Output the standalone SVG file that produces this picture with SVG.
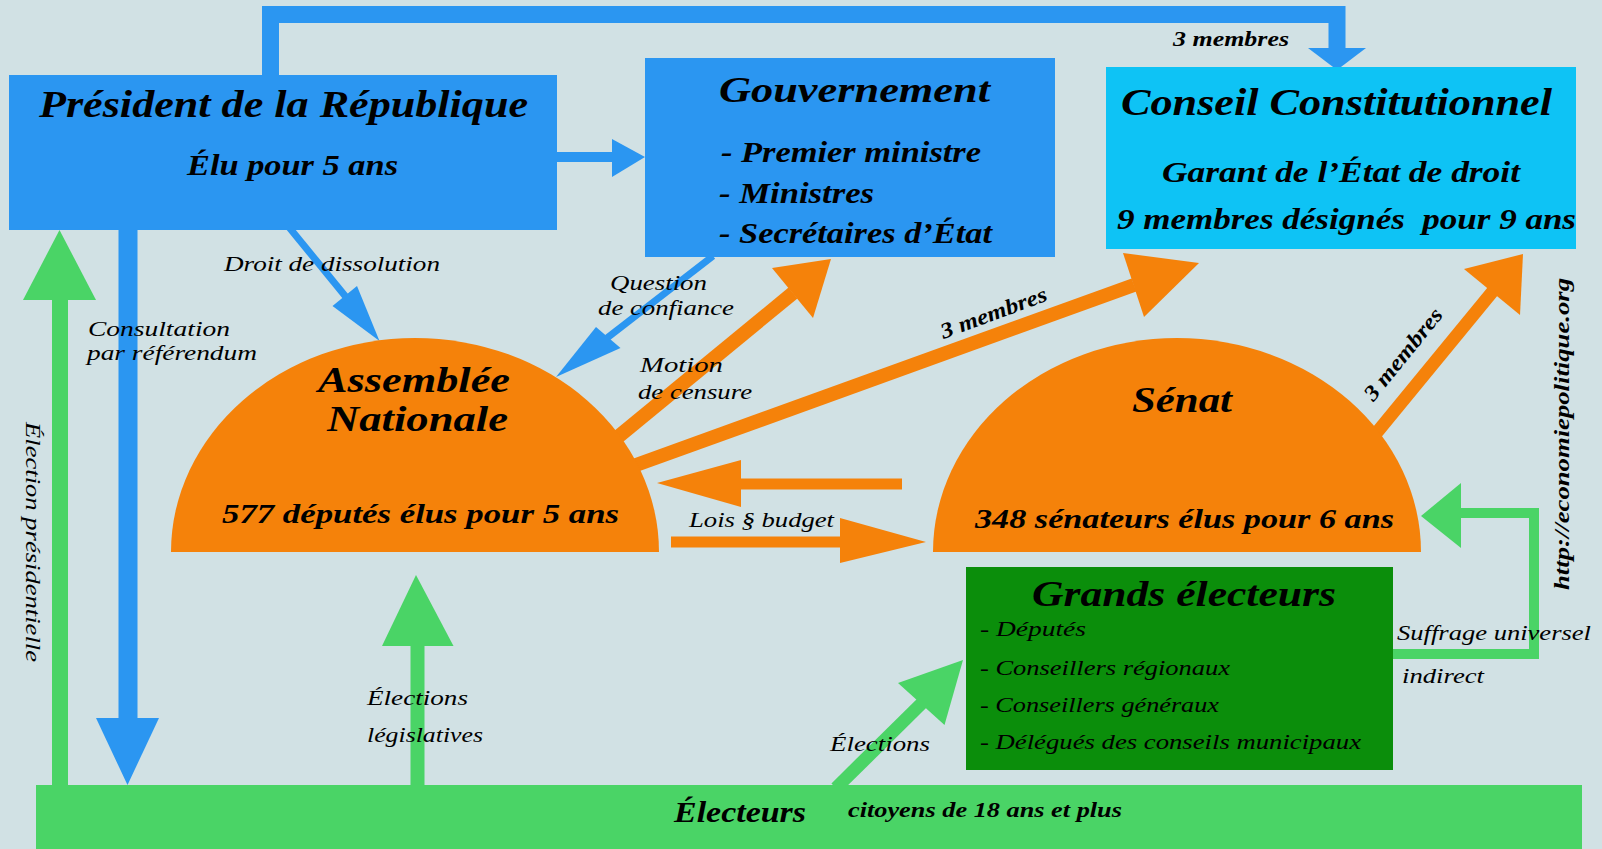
<svg xmlns="http://www.w3.org/2000/svg" width="1602" height="849" viewBox="0 0 1602 849">
<style>
.bg{fill:#D1E1E4}
.blue{fill:#2B96F1}
.cyan{fill:#0EC3F5}
.orange{fill:#F5820A}
.dgreen{fill:#0B8E0B}
.green{fill:#4AD466}
.lb{stroke:#2B96F1;fill:none}
.lo{stroke:#F5820A;fill:none}
.lg{stroke:#4AD466;fill:none}
text{font-family:"Liberation Serif","Times New Roman",serif;font-style:italic;fill:#000}
.b{font-weight:bold}
</style>
<rect class="bg" x="0" y="0" width="1602" height="849"/>

<g id="connectors">
  <!-- President -> Conseil constitutionnel (3 membres) -->
  <path class="lb" d="M270.5,75 V14.5 H1337 V48" stroke-width="17"/>
  <polygon class="blue" points="1308,48 1366,48 1337,70"/>
  <!-- President -> Gouvernement -->
  <line class="lb" x1="557" y1="157" x2="613" y2="157" stroke-width="10"/>
  <polygon class="blue" points="645,157 612,139 612,177"/>
  <!-- Droit de dissolution -->
  <line class="lb" x1="288" y1="226" x2="346" y2="297" stroke-width="7"/>
  <polygon class="blue" points="379.5,341 332.5,306 357,286"/>
  <!-- Question de confiance -->
  <line class="lb" x1="713" y1="256" x2="607" y2="338" stroke-width="7"/>
  <polygon class="blue" points="556,377 596,327 620.5,348"/>
  <!-- Consultation par referendum -->
  <line class="lb" x1="128" y1="222" x2="128" y2="720" stroke-width="19"/>
  <polygon class="blue" points="96,718 159,718 127.5,785"/>
  <!-- Motion de censure -->
  <line class="lo" x1="613" y1="441" x2="793" y2="293" stroke-width="14"/>
  <polygon class="orange" points="831,259 772,268 813,318"/>
  <!-- AN -> CC 3 membres -->
  <line class="lo" x1="636" y1="465" x2="1134" y2="285" stroke-width="14"/>
  <polygon class="orange" points="1199,263 1123,253 1144,317"/>
  <!-- Senat -> AN -->
  <line class="lo" x1="902" y1="484" x2="738" y2="484" stroke-width="11"/>
  <polygon class="orange" points="657,483 741,460 741,507"/>
  <!-- Lois budget AN -> Senat -->
  <line class="lo" x1="671" y1="542" x2="842" y2="542" stroke-width="11"/>
  <polygon class="orange" points="926,542 840,518 840,563"/>
  <!-- Senat -> CC 3 membres -->
  <line class="lo" x1="1360" y1="453" x2="1493" y2="291" stroke-width="13"/>
  <polygon class="orange" points="1523,254 1464,269 1520,315"/>
  <!-- Election presidentielle -->
  <line class="lg" x1="60" y1="786" x2="60" y2="298" stroke-width="16"/>
  <polygon class="green" points="59.5,230 23,300 96,300"/>
  <!-- Elections legislatives -->
  <line class="lg" x1="417.5" y1="786" x2="417.5" y2="644" stroke-width="14"/>
  <polygon class="green" points="416,575 382,646 453.5,646"/>
  <!-- Elections -> Grands electeurs -->
  <line class="lg" x1="836" y1="788" x2="922" y2="703" stroke-width="13"/>
  <polygon class="green" points="963,660 898,683 944.5,725"/>
  <!-- Suffrage universel indirect -->
  <path class="lg" d="M1393,654 H1534 V513 H1459" stroke-width="10"/>
  <polygon class="green" points="1421,516 1461,483 1461,548"/>

  <!-- labels -->
  <text class="b" x="1173" y="46" font-size="22" textLength="116" lengthAdjust="spacingAndGlyphs">3 membres</text>
  <text x="224" y="271" font-size="22" textLength="216" lengthAdjust="spacingAndGlyphs">Droit de dissolution</text>
  <text x="88" y="336" font-size="22" textLength="142" lengthAdjust="spacingAndGlyphs">Consultation</text>
  <text x="87" y="360" font-size="22" textLength="170" lengthAdjust="spacingAndGlyphs">par référendum</text>
  <text x="610" y="290" font-size="22" textLength="97" lengthAdjust="spacingAndGlyphs">Question</text>
  <text x="598" y="315" font-size="22" textLength="136" lengthAdjust="spacingAndGlyphs">de confiance</text>
  <text x="640" y="372" font-size="22" textLength="83" lengthAdjust="spacingAndGlyphs">Motion</text>
  <text x="638" y="399" font-size="22" textLength="114" lengthAdjust="spacingAndGlyphs">de censure</text>
  <text class="b" transform="translate(994,314) rotate(-20.3)" x="0" y="6" font-size="22" text-anchor="middle" textLength="112" lengthAdjust="spacingAndGlyphs">3 membres</text>
  <text class="b" transform="translate(1404,355) rotate(-51)" x="0" y="6" font-size="22" text-anchor="middle" textLength="112" lengthAdjust="spacingAndGlyphs">3 membres</text>
  <text x="689" y="527" font-size="21" textLength="145" lengthAdjust="spacingAndGlyphs">Lois § budget</text>
  <text x="367" y="705" font-size="21" textLength="101" lengthAdjust="spacingAndGlyphs">Élections</text>
  <text x="367" y="742" font-size="21" textLength="116" lengthAdjust="spacingAndGlyphs">législatives</text>
  <text x="830" y="751" font-size="21" textLength="100" lengthAdjust="spacingAndGlyphs">Élections</text>
  <text x="1397" y="640" font-size="21" textLength="194" lengthAdjust="spacingAndGlyphs">Suffrage universel</text>
  <text x="1402" y="683" font-size="21" textLength="82" lengthAdjust="spacingAndGlyphs">indirect</text>
  <text transform="translate(26,542) rotate(90)" x="0" y="0" font-size="20" text-anchor="middle" textLength="240" lengthAdjust="spacingAndGlyphs">Élection présidentielle</text>
</g>

<g id="president">
  <rect class="blue" x="9" y="75" width="548" height="155"/>
  <text class="b" x="39" y="117" font-size="38" textLength="489" lengthAdjust="spacingAndGlyphs">Président de la République</text>
  <text class="b" x="187" y="175" font-size="30" textLength="211" lengthAdjust="spacingAndGlyphs">Élu pour 5 ans</text>
</g>

<g id="gouvernement">
  <rect class="blue" x="645" y="58" width="410" height="199"/>
  <text class="b" x="719" y="102" font-size="36" textLength="271" lengthAdjust="spacingAndGlyphs">Gouvernement</text>
  <text class="b" x="721" y="162" font-size="30" textLength="260" lengthAdjust="spacingAndGlyphs">- Premier ministre</text>
  <text class="b" x="719" y="203" font-size="30" textLength="155" lengthAdjust="spacingAndGlyphs">- Ministres</text>
  <text class="b" x="719" y="243" font-size="30" textLength="273" lengthAdjust="spacingAndGlyphs">- Secrétaires d’État</text>
</g>

<g id="conseil-constitutionnel">
  <rect class="cyan" x="1106" y="67" width="470" height="182"/>
  <text class="b" x="1121" y="115" font-size="38" textLength="431" lengthAdjust="spacingAndGlyphs">Conseil Constitutionnel</text>
  <text class="b" x="1162" y="182" font-size="29" textLength="358" lengthAdjust="spacingAndGlyphs">Garant de l’État de droit</text>
  <text class="b" xml:space="preserve" x="1117" y="229" font-size="29" textLength="459" lengthAdjust="spacingAndGlyphs">9 membres désignés  pour 9 ans</text>
</g>

<g id="assemblee-nationale">
  <path class="orange" d="M171,552 A244,214 0 0 1 659,552 Z"/>
  <text class="b" x="318" y="392" font-size="36" textLength="192" lengthAdjust="spacingAndGlyphs">Assemblée</text>
  <text class="b" x="327" y="431" font-size="36" textLength="181" lengthAdjust="spacingAndGlyphs">Nationale</text>
  <text class="b" x="222" y="523" font-size="28" textLength="397" lengthAdjust="spacingAndGlyphs">577 députés élus pour 5 ans</text>
</g>

<g id="senat">
  <path class="orange" d="M933,552 A244,214 0 0 1 1421,552 Z"/>
  <text class="b" x="1132" y="412" font-size="36" textLength="100" lengthAdjust="spacingAndGlyphs">Sénat</text>
  <text class="b" x="975" y="528" font-size="28" textLength="419" lengthAdjust="spacingAndGlyphs">348 sénateurs élus pour 6 ans</text>
</g>

<g id="grands-electeurs">
  <rect class="dgreen" x="966" y="567" width="427" height="203"/>
  <text class="b" x="1032" y="606" font-size="36" textLength="304" lengthAdjust="spacingAndGlyphs">Grands électeurs</text>
  <text x="980" y="636" font-size="22" textLength="106" lengthAdjust="spacingAndGlyphs">- Députés</text>
  <text x="980" y="675" font-size="22" textLength="250" lengthAdjust="spacingAndGlyphs">- Conseillers régionaux</text>
  <text x="980" y="712" font-size="22" textLength="239" lengthAdjust="spacingAndGlyphs">- Conseillers généraux</text>
  <text x="980" y="749" font-size="22" textLength="381" lengthAdjust="spacingAndGlyphs">- Délégués des conseils municipaux</text>
</g>

<g id="electeurs">
  <rect class="green" x="36" y="785" width="1546" height="64"/>
  <text class="b" x="674" y="822" font-size="30" textLength="132" lengthAdjust="spacingAndGlyphs">Électeurs</text>
  <text class="b" x="848" y="817" font-size="22" textLength="274" lengthAdjust="spacingAndGlyphs">citoyens de 18 ans et plus</text>
</g>

<g id="source">
  <text class="b" transform="translate(1569,434) rotate(-90)" x="0" y="0" font-size="20" text-anchor="middle" textLength="312" lengthAdjust="spacingAndGlyphs">http://economiepolitique.org</text>
</g>
</svg>
